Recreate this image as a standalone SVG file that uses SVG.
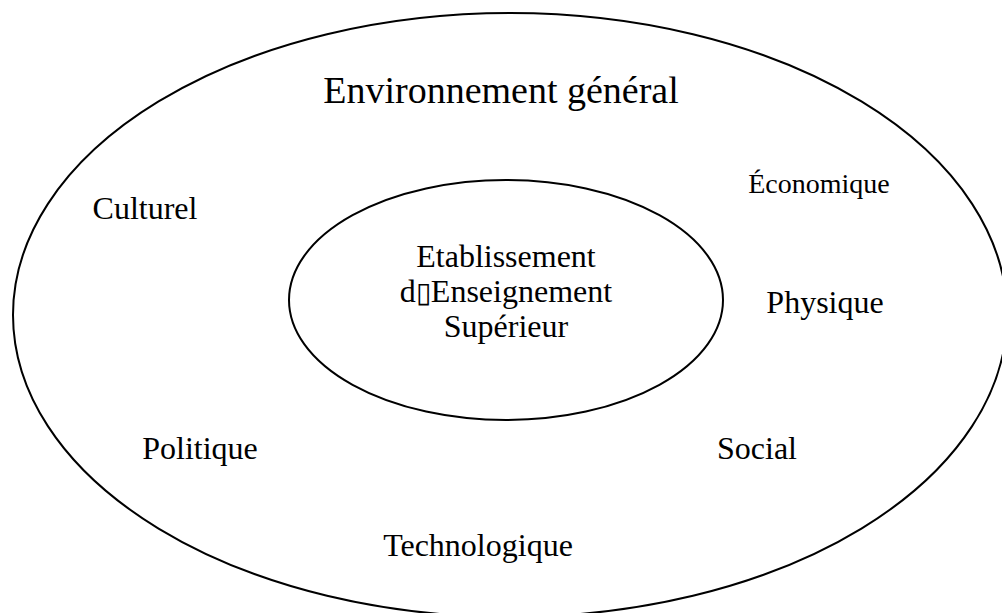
<svg xmlns="http://www.w3.org/2000/svg" width="1002" height="613" viewBox="0 0 1002 613">
<style>
.e{fill:none;stroke:#000;stroke-width:2}
.t{font-family:"Liberation Serif","Times New Roman",serif;font-size:32px;fill:#000;text-anchor:middle}
.box{font-family:"DejaVu Sans",sans-serif;font-size:28px;font-weight:100}
</style>
<rect width="1002" height="613" fill="#fff"/>
<g id="environnement">
<ellipse class="e" cx="510" cy="315" rx="497" ry="302"/>
<text class="t" x="501" y="103" style="font-size:38px">Environnement général</text>
</g>
<g id="etablissement">
<ellipse class="e" cx="506" cy="300" rx="217" ry="120"/>
<text class="t" x="506" y="267">Etablissement</text>
<text class="t" x="506" y="302">d<tspan class="box">▯</tspan>Enseignement</text>
<text class="t" x="506" y="337">Supérieur</text>
</g>
<g id="economique"><text class="t" x="819" y="193" style="font-size:28px">Économique</text></g>
<g id="culturel"><text class="t" x="145" y="219">Culturel</text></g>
<g id="physique"><text class="t" x="825" y="313">Physique</text></g>
<g id="politique"><text class="t" x="200" y="459">Politique</text></g>
<g id="social"><text class="t" x="757" y="459">Social</text></g>
<g id="technologique"><text class="t" x="478" y="556">Technologique</text></g>
<g id="connectors"></g>
</svg>
